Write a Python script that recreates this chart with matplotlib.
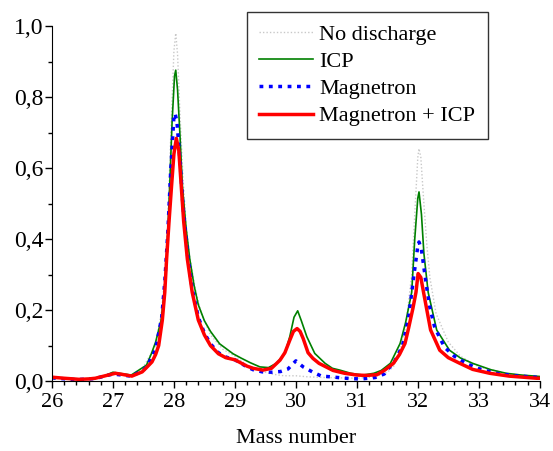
import numpy as np
import matplotlib
matplotlib.use("Agg")
import matplotlib.pyplot as plt
from matplotlib.ticker import MultipleLocator, FuncFormatter

plt.rcParams['font.family'] = ['Liberation Serif', 'DejaVu Serif']

# ---- data (mass number, signal) ----
nodis_x = [26.0, 26.3, 26.5, 26.7, 26.85, 27.0, 27.15, 27.3, 27.5, 27.7, 27.8, 27.85,
           27.9, 27.95, 28.0, 28.03, 28.06, 28.1, 28.15, 28.2, 28.26, 28.35, 28.45,
           28.6, 28.8, 29.0, 29.2, 29.4, 29.6, 29.8, 30.0, 30.2, 30.5, 31.0, 31.3,
           31.5, 31.6, 31.7, 31.8, 31.9, 31.95, 32.0, 32.02, 32.05, 32.1, 32.15,
           32.2, 32.3, 32.5, 32.7, 33.0, 33.5, 34.0]
nodis_y = [0.010, 0.006, 0.005, 0.007, 0.012, 0.020, 0.018, 0.014, 0.040, 0.100, 0.200, 0.300,
           0.450, 0.700, 0.930, 0.980, 0.920, 0.750, 0.570, 0.440, 0.350, 0.260, 0.190,
           0.130, 0.090, 0.070, 0.045, 0.030, 0.020, 0.015, 0.015, 0.012, 0.010, 0.008, 0.012,
           0.025, 0.040, 0.080, 0.150, 0.300, 0.470, 0.630, 0.655, 0.630, 0.500, 0.380,
           0.290, 0.190, 0.110, 0.070, 0.040, 0.020, 0.012]

icp_x = [26.0, 26.3, 26.5, 26.7, 26.85, 27.0, 27.1, 27.3, 27.47, 27.55, 27.63, 27.7,
         27.79, 27.84, 27.88, 27.93, 27.97, 28.01, 28.03, 28.06, 28.1, 28.14, 28.2,
         28.26, 28.33, 28.4, 28.5, 28.6, 28.75, 28.97, 29.1, 29.25, 29.41, 29.55,
         29.68, 29.82, 29.9, 29.97, 30.03, 30.09, 30.18, 30.31, 30.48, 30.6, 30.72,
         30.9, 31.1, 31.28, 31.4, 31.55, 31.71, 31.8, 31.9, 31.95, 32.0, 32.02, 32.06,
         32.1, 32.17, 32.31, 32.52, 32.7, 32.9, 33.2, 33.45, 33.7, 34.0]
icp_y = [0.011, 0.007, 0.006, 0.008, 0.014, 0.025, 0.022, 0.017, 0.036, 0.045, 0.077, 0.110,
         0.172, 0.250, 0.344, 0.547, 0.730, 0.860, 0.876, 0.820, 0.690, 0.547, 0.430,
         0.344, 0.270, 0.215, 0.170, 0.140, 0.105, 0.077, 0.065, 0.052, 0.040, 0.038,
         0.050, 0.078, 0.125, 0.180, 0.198, 0.170, 0.125, 0.078, 0.050, 0.036, 0.031,
         0.022, 0.017, 0.022, 0.030, 0.050, 0.106, 0.165, 0.250, 0.400, 0.515, 0.533, 0.470,
         0.360, 0.250, 0.144, 0.087, 0.065, 0.050, 0.032, 0.022, 0.017, 0.013]

mag_x = [26.0, 26.4, 26.7, 27.0, 27.3, 27.5, 27.6, 27.7, 27.8, 27.85, 27.9, 27.95,
         28.0, 28.02, 28.05, 28.1, 28.15, 28.22, 28.3, 28.4, 28.5, 28.6, 28.73, 28.85,
         29.0, 29.1, 29.2, 29.3, 29.45, 29.6, 29.75, 29.87, 30.0, 30.12, 30.27, 30.42,
         30.58, 30.75, 30.9, 31.07, 31.3, 31.45, 31.63, 31.75, 31.85, 31.93, 32.0,
         32.02, 32.06, 32.14, 32.2, 32.28, 32.44, 32.6, 32.79, 33.0, 33.28, 33.6, 34.0]
mag_y = [0.009, 0.004, 0.007, 0.020, 0.014, 0.030, 0.055, 0.090, 0.180, 0.280, 0.420, 0.600,
         0.745, 0.754, 0.730, 0.620, 0.490, 0.360, 0.260, 0.180, 0.135, 0.105, 0.080, 0.068,
         0.060, 0.050, 0.040, 0.032, 0.026, 0.025, 0.027, 0.034, 0.057, 0.040, 0.026, 0.014,
         0.012, 0.009, 0.007, 0.006, 0.010, 0.020, 0.059, 0.100, 0.180, 0.290, 0.380,
         0.392, 0.370, 0.270, 0.205, 0.150, 0.095, 0.070, 0.050, 0.035, 0.022, 0.015, 0.010]

magicp_x = [26.0, 26.2, 26.44, 26.6, 26.71, 26.85, 27.04, 27.15, 27.31, 27.48, 27.55,
            27.64, 27.7, 27.75, 27.81, 27.85, 27.88, 27.92, 27.96, 28.0, 28.04, 28.08,
            28.12, 28.16, 28.22, 28.3, 28.4, 28.5, 28.6, 28.73, 28.85, 29.0, 29.1, 29.2,
            29.3, 29.46, 29.6, 29.74, 29.82, 29.9, 29.96, 30.02, 30.07, 30.12, 30.2,
            30.28, 30.38, 30.61, 30.8, 31.0, 31.16, 31.33, 31.45, 31.6, 31.7, 31.79,
            31.85, 31.92, 31.97, 32.005, 32.05, 32.1, 32.21, 32.36, 32.5, 32.69, 32.9,
            33.18, 33.5, 33.95, 34.0]
magicp_y = [0.011, 0.008, 0.005, 0.006, 0.008, 0.014, 0.022, 0.019, 0.014, 0.026, 0.038,
            0.054, 0.075, 0.100, 0.172, 0.250, 0.344, 0.450, 0.547, 0.640, 0.684, 0.650,
            0.550, 0.450, 0.344, 0.250, 0.172, 0.130, 0.100, 0.077, 0.066, 0.060, 0.051, 0.042,
            0.036, 0.031, 0.036, 0.059, 0.080, 0.115, 0.140, 0.148, 0.140, 0.120, 0.080,
            0.064, 0.050, 0.030, 0.022, 0.017, 0.016, 0.018, 0.030, 0.050, 0.075, 0.106,
            0.150, 0.205, 0.250, 0.303, 0.292, 0.245, 0.144, 0.087, 0.066, 0.050, 0.033,
            0.022, 0.014, 0.008, 0.008]

fig = plt.figure(figsize=(5.53, 4.51), dpi=100)
ax = fig.add_axes([0.094, 0.155, 0.882, 0.787])

ax.plot(nodis_x, nodis_y, color='#c8c8c8', linewidth=1.0, linestyle=(0, (1, 1.5)),
        label='No discharge')
ax.plot(icp_x, icp_y, color='#008000', linewidth=1.2, label='ICP')
ax.plot(mag_x, mag_y, color='#0000ff', linewidth=2.5, linestyle=(0, (1.1, 1.6)),
        label='Magnetron')
ax.plot(magicp_x, magicp_y, color='#ff0000', linewidth=2.5, label='Magnetron + ICP')

ax.set_xlim(26, 34)
ax.set_ylim(0, 1.0)
ax.xaxis.set_major_locator(MultipleLocator(1))
ax.xaxis.set_minor_locator(MultipleLocator(0.2))
ax.yaxis.set_major_locator(MultipleLocator(0.2))
ax.yaxis.set_minor_locator(MultipleLocator(0.1))
ax.yaxis.set_major_formatter(FuncFormatter(lambda v, p: f"{v:.1f}".replace('.', ',')))

ax.spines['top'].set_visible(False)
ax.spines['right'].set_visible(False)
ax.tick_params(which='major', direction='out', length=5, width=1, labelsize=16)
ax.tick_params(which='minor', direction='out', length=3, width=1)
ax.tick_params(axis='y', which='major', labelsize=17, pad=1)

ax.set_xlabel('Mass number', fontsize=16, labelpad=12)

leg = ax.legend(loc='upper right', bbox_to_anchor=(0.893, 1.04), borderaxespad=0,
                fontsize=16, frameon=True, fancybox=False, edgecolor='black',
                handlelength=2.4, labelspacing=0.3, borderpad=0.55, handletextpad=0.3)
leg.get_frame().set_linewidth(1.0)

fig.savefig('out.png', dpi=100)
